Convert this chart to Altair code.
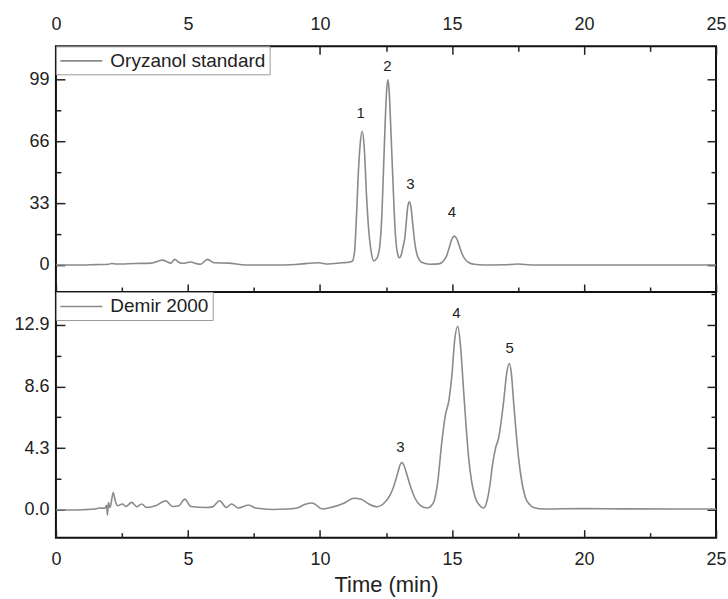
import altair as alt
import pandas as pd

# ---------------- data ----------------
top_time = [0.0, 1.0, 1.5, 2.0, 2.1, 2.3, 3.0, 3.6, 4.03, 4.2, 4.35, 4.5, 4.65, 4.79, 5.1, 5.3,
            5.48, 5.74, 5.99, 6.54, 7.19, 8.2, 9.08, 9.95, 10.3, 10.84, 11.10, 11.22, 11.31,
            11.38, 11.45, 11.52, 11.60, 11.68, 11.76, 11.85, 11.94, 12.04, 12.12, 12.20, 12.28,
            12.34, 12.40, 12.47, 12.53, 12.57, 12.62, 12.68, 12.76, 12.82, 12.88, 12.95, 13.01,
            13.08, 13.15, 13.21, 13.27, 13.33, 13.39, 13.45, 13.52, 13.60, 13.70, 13.85, 14.18,
            14.50, 14.70, 14.80, 14.90, 15.00, 15.09, 15.18, 15.28, 15.38, 15.50, 15.65, 15.85,
            16.2, 17.0, 17.5, 18.0, 20.0, 22.0, 25.0]
top_signal = [0.0, 0.0, 0.2, 0.4, 0.8, 0.5, 0.8, 1.0, 2.6, 1.8, 1.0, 3.0, 1.5, 0.9, 1.6, 0.8,
              0.4, 3.0, 1.2, 1.0, 0.0, 0.0, 0.3, 1.2, 0.5, 1.2, 1.5, 2.0, 7.0,
              25.0, 48.0, 64.0, 71.3, 62.0, 38.0, 18.0, 7.0, 2.1, 3.0, 5.0, 12.0,
              25.0, 48.0, 76.0, 94.0, 98.8, 93.0, 74.0, 46.0, 26.0, 12.0, 5.5, 3.9,
              5.5, 10.0, 14.0, 23.0, 31.5, 33.7, 30.5, 21.0, 11.0, 4.5, 1.5, 0.4,
              0.6, 2.5, 5.0, 9.5, 14.0, 15.4, 14.0, 10.0, 6.0, 3.0, 1.2, 0.4,
              0.0, 0.1, 0.5, 0.0, 0.0, 0.0, 0.0]

bot_time = [0.0, 0.5, 1.0, 1.5, 1.64, 1.85, 1.92, 1.95, 1.99, 2.05,
            2.17, 2.25, 2.33, 2.52, 2.65, 2.87, 3.06, 3.25, 3.43, 3.78,
            4.16, 4.41, 4.66, 4.88, 5.11, 5.67, 5.93, 6.2, 6.45, 6.65,
            6.91, 7.29, 7.56, 8.2, 8.81, 9.2, 9.39, 9.7, 10.1, 10.5,
            10.9, 11.28, 11.54, 11.85, 12.17, 12.45, 12.65, 12.80, 12.95, 13.05,
            13.11, 13.20, 13.30, 13.45, 13.60, 13.80, 14.06, 14.30, 14.45, 14.62,
            14.75, 14.88, 15.00, 15.10, 15.22, 15.32, 15.44, 15.54, 15.63, 15.75,
            15.88, 16.05, 16.20, 16.35, 16.45, 16.52, 16.65, 16.77, 16.88, 16.96,
            17.07, 17.17, 17.25, 17.33, 17.42, 17.52, 17.65, 17.78, 17.95, 18.09,
            18.5, 20.0, 21.5, 25.0]
bot_signal = [0.0, -0.02, 0.0, 0.05, 0.12, 0.1, 0.3, -0.37, 0.5, 0.15,
              1.2, 0.6, 0.28, 0.4, 0.23, 0.51, 0.21, 0.4, 0.16, 0.28,
              0.63, 0.23, 0.28, 0.74, 0.23, 0.16, 0.2, 0.63, 0.16, 0.4,
              0.12, 0.33, 0.12, 0.02, 0.05, 0.16, 0.35, 0.47, 0.05, 0.2,
              0.45, 0.8, 0.75, 0.4, 0.21, 0.5, 1.0, 1.65, 2.6, 3.2,
              3.3, 3.0, 2.4, 1.5, 0.8, 0.3, 0.12, 0.5, 1.8, 4.8,
              6.6, 7.6, 9.45, 11.8, 12.8, 11.5, 8.3, 5.7, 3.65, 1.9,
              0.86, 0.3, 0.12, 0.8, 1.9, 2.95, 4.3, 5.04, 6.4, 7.6,
              9.5, 10.2, 9.5, 7.6, 5.6, 3.65, 1.9, 0.86, 0.35, 0.16,
              0.05, 0.08, 0.06, 0.05]

top_series = "Oryzanol standard"
bot_series = "Demir 2000"

top_peak_labels = ["1", "2", "3", "4"]
top_peak_time = [11.54, 12.55, 13.43, 15.0]
top_peak_pos = [81.0, 106.0, 43.0, 28.0]

bot_peak_labels = ["3", "4", "5"]
bot_peak_time = [13.05, 15.17, 17.18]
bot_peak_pos = [4.39, 13.75, 11.27]

x_major = [0, 5, 10, 15, 20, 25]
x_minor = [2.5, 7.5, 12.5, 17.5, 22.5]
top_y_domain = [-14.4, 116.6]
top_y_major = [0, 33, 66, 99]
top_y_minor = [16.5, 49.5, 82.5]
bot_y_domain = [-1.95, 15.19]
bot_y_major = [0.0, 4.3, 8.6, 12.9]
bot_y_minor = [2.15, 6.45, 10.75, 15.05]

LINE = "#8a8a8a"
INK = "#222222"
W, H = 661, 246


def panel(times, signal, series, p_time, p_pos, p_lab, ydom, ymaj, ymin, yfmt,
          top_labels, bottom_labels, top_ticks):
    df = pd.DataFrame({"t": times, "v": signal, "s": series})
    pk = pd.DataFrame({"t": p_time, "v": p_pos, "lab": p_lab})
    xs = alt.Scale(domain=[0, 25], nice=False, zero=False)
    ys = alt.Scale(domain=ydom, nice=False, zero=False)
    base = alt.Chart(df)

    main = base.mark_line(strokeWidth=1.6, interpolate="monotone").encode(
        x=alt.X("t:Q", scale=xs, axis=alt.Axis(
            orient="bottom", values=x_major, offset=-8, tickSize=8,
            labels=bottom_labels, labelPadding=13, format="d",
            title="Time (min)" if bottom_labels else None,
            titleFontSize=22, titleFontWeight="normal", titlePadding=6, titleColor=INK)),
        y=alt.Y("v:Q", scale=ys, axis=alt.Axis(
            orient="left", values=ymaj, offset=-9, tickSize=9,
            labelPadding=7, format=yfmt, title=None)),
        color=alt.Color("s:N", scale=alt.Scale(range=[LINE]), legend=alt.Legend(
            orient="top-left", offset=0, padding=3.5, title=None,
            strokeColor="#9a9a9a", fillColor="white",
            labelFontSize=19, labelColor=INK, labelLimit=400, labelOffset=29,
            symbolType="M-1,0H3.2", symbolSize=400, symbolStrokeWidth=1.6)),
    )

    minor1 = base.mark_line(strokeOpacity=0).encode(
        x=alt.X("t:Q", scale=xs, axis=alt.Axis(
            orient="bottom", values=x_minor, offset=-5, tickSize=5,
            labels=False, title=None)),
        y=alt.Y("v:Q", scale=ys, axis=alt.Axis(
            orient="left", values=ymin, offset=-5, tickSize=5,
            labels=False, title=None)),
    )

    if top_ticks:
        xa_major = alt.Axis(orient="top", values=x_major, offset=-8, tickSize=8,
                            labels=top_labels, labelPadding=13, format="d", title=None)
        xa_minor = alt.Axis(orient="top", values=x_minor, offset=-5, tickSize=5,
                            labels=False, title=None)
    else:
        xa_major = None
        xa_minor = None

    major2 = base.mark_line(strokeOpacity=0).encode(
        x=alt.X("t:Q", scale=xs, axis=xa_major),
        y=alt.Y("v:Q", scale=ys, axis=alt.Axis(
            orient="right", values=ymaj, offset=-9, tickSize=9,
            labels=False, title=None)),
    )
    minor2 = base.mark_line(strokeOpacity=0).encode(
        x=alt.X("t:Q", scale=xs, axis=xa_minor),
        y=alt.Y("v:Q", scale=ys, axis=alt.Axis(
            orient="right", values=ymin, offset=-5, tickSize=5,
            labels=False, title=None)),
    )

    text = alt.Chart(pk).mark_text(fontSize=15, color=INK, baseline="middle").encode(
        x=alt.X("t:Q", scale=xs, axis=None),
        y=alt.Y("v:Q", scale=ys, axis=None),
        text="lab:N",
    )

    return alt.layer(main, minor1, major2, minor2, text).resolve_axis(
        x="independent", y="independent"
    ).properties(width=W, height=H)


top = panel(top_time, top_signal, top_series, top_peak_time, top_peak_pos, top_peak_labels,
            top_y_domain, top_y_major, top_y_minor, "d", True, False, True)
bottom = panel(bot_time, bot_signal, bot_series, bot_peak_time, bot_peak_pos, bot_peak_labels,
               bot_y_domain, bot_y_major, bot_y_minor, ".1f", False, True, False)

chart = alt.vconcat(top, bottom, spacing=0, bounds="flush").resolve_scale(
    color="independent"
).resolve_legend(color="independent").properties(
    padding={"left": 12, "top": 14, "right": 0, "bottom": 0},
    background="white",
).configure(
    font="Liberation Sans"
).configure_view(
    stroke="#111111", strokeWidth=2
).configure_axis(
    grid=False, domain=False, tickColor=INK, tickWidth=1.5,
    labelFont="Liberation Sans", labelFontSize=18, labelColor=INK,
    labelFlush=False, labelOverlap=False, titleFont="Liberation Sans",
)

chart.save("out.html", embed_options={"renderer": "svg", "actions": False})
